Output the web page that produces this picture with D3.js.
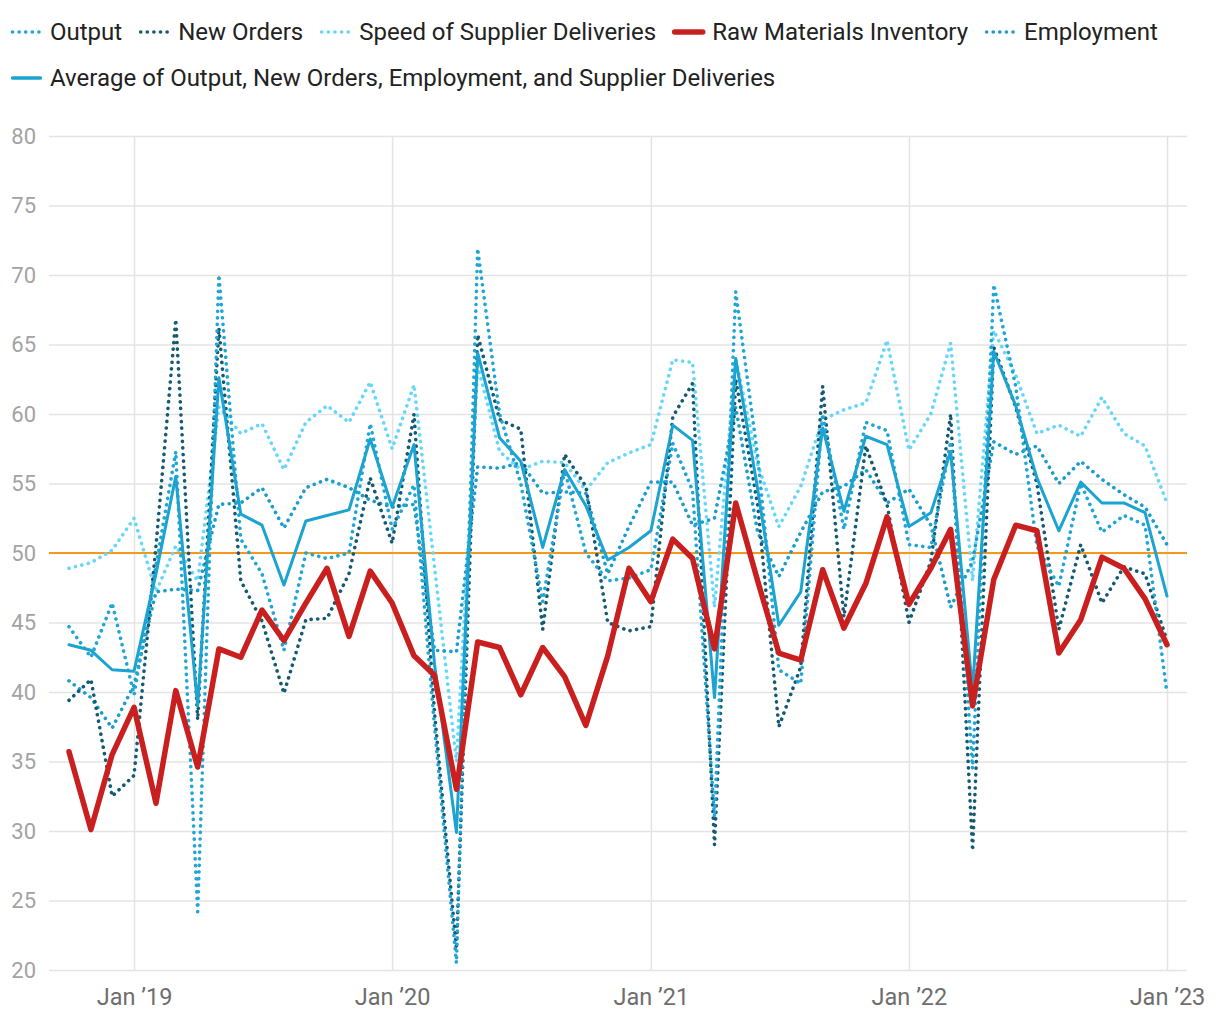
<!DOCTYPE html>
<html>
<head>
<meta charset="utf-8">
<script src="https://cdn.jsdelivr.net/npm/d3@7"></script>
<style>
  html, body { margin: 0; padding: 0; background: #fff; }
  svg { display: block; font-family: Roboto, "Noto Sans", sans-serif; }
</style>
</head>
<body>
<svg id="chart" width="1220" height="1020"></svg>
<script>
// Months: Oct 2018 .. Jan 2023
const startMonth = "2018-10";
const monthCount = 52;

const outputValues = [44.7,42.5,46.4,39.8,49.1,57.3,24.2,70.0,51.0,48.5,43.0,50.0,49.6,50.0,59.3,51.7,54.9,37.5,20.5,71.9,60.0,55.0,46.5,56.0,50.0,48.0,48.2,48.8,57.9,54.5,31.0,68.8,57.0,41.6,40.6,60.0,51.7,59.4,58.8,50.6,50.4,58.0,34.5,69.3,62.0,50.5,47.6,55.0,51.5,52.7,52.0,39.9];
const newOrdersValues = [39.4,40.9,32.5,34.0,50.5,66.8,38.0,66.2,48.0,45.1,39.9,45.2,45.3,48.5,55.4,50.7,60.0,38.5,21.5,65.7,59.6,58.9,44.5,57.1,54.8,45.0,44.4,44.7,59.8,62.2,29.0,62.5,53.5,37.5,41.8,62.0,45.4,57.7,53.5,45.0,49.4,60.0,28.6,64.8,60.5,55.0,44.5,50.6,46.4,49.0,48.5,43.7];
const supplierValues = [48.9,49.3,50.2,52.5,47.2,50.5,48.0,60.5,58.6,59.3,56.0,59.4,60.6,59.4,62.3,57.5,62.1,49.0,35.0,63.5,57.3,56.0,56.6,56.5,54.5,56.5,57.2,57.8,63.9,63.7,46.1,64.0,56.4,51.9,54.8,59.6,60.3,60.8,65.3,57.4,60.0,65.1,48.0,66.0,62.8,58.6,59.2,58.4,61.2,58.6,57.7,53.6];
const rawMaterialsValues = [35.7,30.1,35.5,38.9,32.0,40.1,34.6,43.1,42.5,45.9,43.7,46.4,48.9,44.0,48.7,46.4,42.6,41.2,33.0,43.6,43.2,39.8,43.2,41.1,37.6,42.6,48.9,46.5,51.0,49.6,43.1,53.6,48.0,42.8,42.3,48.8,44.6,47.8,52.6,46.3,48.9,51.7,39.0,48.1,52.0,51.6,42.8,45.2,49.7,48.9,46.7,43.4];
const employmentValues = [40.8,39.6,37.4,40.5,47.2,47.4,47.3,53.5,53.6,54.7,51.8,54.7,55.3,54.7,53.8,53.3,53.5,43.0,42.9,56.2,56.1,56.5,54.3,54.4,54.3,48.5,51.9,55.1,55.1,52.0,52.5,60.5,51.5,48.3,51.5,54.4,54.8,56.0,53.6,54.6,52.0,46.1,49.4,58.0,57.1,57.7,55.0,56.6,55.3,54.2,53.3,50.6];
const averageValues = [43.4,43.0,41.6,41.5,48.5,55.5,39.0,62.6,52.8,52.0,47.7,52.3,52.7,53.1,58.2,53.3,57.8,42.0,29.9,64.4,58.3,56.6,50.4,56.0,53.4,49.5,50.4,51.6,59.2,58.1,39.6,64.0,54.6,44.8,47.2,59.0,53.0,58.4,57.8,51.9,52.9,57.3,40.1,64.5,60.6,55.4,51.6,55.1,53.6,53.6,52.9,46.9];

const seriesNames = ["Output","New Orders","Speed of Supplier Deliveries","Raw Materials Inventory","Employment","Average of Output, New Orders, Employment, and Supplier Deliveries"];
const yTickValues = [20,25,30,35,40,45,50,55,60,65,70,75,80];
const xTickLabels = ["Jan \u201919","Jan \u201920","Jan \u201921","Jan \u201922","Jan \u201923"];
const referenceValue = 50;

// ---- build
const parseMonth = d3.timeParse("%Y-%m");
const months = d3.timeMonth.range(parseMonth(startMonth), d3.timeMonth.offset(parseMonth(startMonth), monthCount));

const DOTS = "0.1 6.5";
const styles = {
  "Output":                     {color:"#1fa5d6", width:3.6, dash:DOTS},
  "New Orders":                 {color:"#135a72", width:3.6, dash:DOTS},
  "Speed of Supplier Deliveries":{color:"#66d7f8", width:3.6, dash:DOTS},
  "Raw Materials Inventory":    {color:"#c9201f", width:5.5, dash:null},
  "Employment":                 {color:"#1a9dca", width:3.6, dash:DOTS},
  "Average of Output, New Orders, Employment, and Supplier Deliveries": {color:"#1ba3d1", width:3, dash:null}
};
const valuesByName = {
  "Output": outputValues,
  "New Orders": newOrdersValues,
  "Speed of Supplier Deliveries": supplierValues,
  "Raw Materials Inventory": rawMaterialsValues,
  "Employment": employmentValues,
  "Average of Output, New Orders, Employment, and Supplier Deliveries": averageValues
};

const svg = d3.select("#chart");
const plotLeft = 49, plotRight = 1187, plotTop = 136, plotBottom = 970;

const x = d3.scaleTime()
  .domain([parseMonth("2018-10"), parseMonth("2023-01")])
  .range([69, 1167]);
const y = d3.scaleLinear().domain([20, 80]).range([plotBottom, plotTop]);

// horizontal grid + y labels
const yAxis = d3.axisLeft(y).tickValues(yTickValues).tickSize(-(plotRight - plotLeft)).tickPadding(13).tickFormat(d3.format("d"));
const gy = svg.append("g").attr("transform", `translate(${plotLeft},0)`).call(yAxis);
gy.select(".domain").remove();
gy.selectAll(".tick line").attr("stroke", "#e4e4e4").attr("stroke-width", 1.5);
gy.selectAll(".tick text").attr("fill", "#a3a3a3").attr("font-size", 22).attr("font-family", "Roboto, sans-serif");

// vertical grid + x labels
const yearTicks = d3.timeYear.range(parseMonth("2019-01"), parseMonth("2023-02"));
const xAxis = d3.axisBottom(x).tickValues(yearTicks).tickSize(-(plotBottom - plotTop)).tickPadding(18)
  .tickFormat((d, i) => xTickLabels[i]);
const gx = svg.append("g").attr("transform", `translate(0,${plotBottom})`).call(xAxis);
gx.select(".domain").remove();
gx.selectAll(".tick line").attr("stroke", "#e4e4e4").attr("stroke-width", 1.5);
gx.selectAll(".tick text").attr("fill", "#6e6e6e").attr("font-size", 23.5).attr("font-family", "Roboto, sans-serif");

// reference line at 50
svg.append("line")
  .attr("x1", plotLeft).attr("x2", plotRight)
  .attr("y1", y(referenceValue)).attr("y2", y(referenceValue))
  .attr("stroke", "#f39a1e").attr("stroke-width", 2);

// series
const line = d3.line().x((d, i) => x(months[i])).y(d => y(d));
const drawOrder = ["Speed of Supplier Deliveries","Employment","New Orders","Output","Average of Output, New Orders, Employment, and Supplier Deliveries","Raw Materials Inventory"];
drawOrder.forEach(name => {
  const s = styles[name];
  svg.append("path")
    .datum(valuesByName[name])
    .attr("d", line)
    .attr("fill", "none")
    .attr("stroke", s.color)
    .attr("stroke-width", s.width)
    .attr("stroke-linecap", "round")
    .attr("stroke-linejoin", "round")
    .attr("stroke-dasharray", s.dash);
});

// legend
const legend = svg.append("g").attr("font-family", "Roboto, sans-serif").attr("font-size", 24);
let lx = 11, ly = 32;
const markerW = 31, markerGap = 8, itemGap = 17, maxX = 1200;
seriesNames.forEach((name, idx) => {
  const s = styles[name];
  const g = legend.append("g");
  const t = g.append("text").attr("x", markerW + markerGap).attr("y", 0).attr("dy", "0.35em")
    .attr("fill", "#222").text(name);
  const w = markerW + markerGap + t.node().getComputedTextLength();
  if (lx + w > maxX || idx === 5) { lx = 11; ly += 46; }
  g.attr("transform", `translate(${lx},${ly})`);
  g.insert("line", "text")
    .attr("x1", 1.5).attr("x2", markerW - 1.5)
    .attr("y1", 0).attr("y2", 0)
    .attr("stroke", s.color)
    .attr("stroke-width", s.dash ? 3.6 : (s.width > 3 ? 5.5 : 3.5))
    .attr("stroke-linecap", "round")
    .attr("stroke-dasharray", s.dash ? DOTS : null);
  lx += w + itemGap;
});
</script>
</body>
</html>
